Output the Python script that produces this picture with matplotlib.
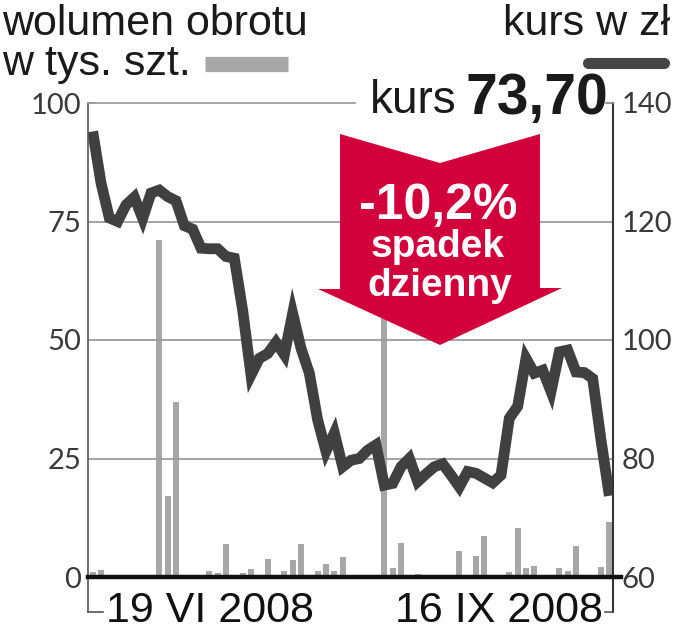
import matplotlib
matplotlib.use("Agg")
import matplotlib.pyplot as plt
from matplotlib.patches import Polygon
from matplotlib.lines import Line2D
import matplotlib.font_manager as fm
import numpy as np

# ---- data ----
volume = [1.0, 1.5, 0.5, 0.3, 0.5, 0.0, 0.5, 0.0, 71.0, 17.0,
          37.0, 0.2, 0.0, 0.0, 1.2, 0.9, 7.0, 0.0, 0.8, 1.6,
          0.0, 3.8, 0.0, 1.2, 3.6, 7.0, 0.0, 1.3, 2.8, 1.2,
          4.3, 0.0, 0.0, 0.0, 0.0, 65.0, 1.9, 7.2, 0.0, 0.6,
          0.0, 0.0, 0.4, 0.0, 5.5, 0.3, 4.4, 8.7, 0.0, 0.0,
          1.0, 10.3, 1.8, 2.3, 0.5, 0.5, 2.0, 1.3, 6.5, 0.0,
          0.0, 2.2, 11.7]
price = [135.2, 126.5, 120.6, 120.0, 122.8, 124.1, 120.5, 124.8, 125.3, 124.2,
         123.5, 119.3, 118.7, 115.5, 115.4, 115.4, 114.1, 113.8, 105.0, 94.1,
         96.9, 97.7, 99.6, 97.5, 104.5, 98.6, 94.4, 86.5, 81.2, 84.3,
         78.6, 79.7, 80.0, 81.4, 82.3, 75.5, 75.8, 78.6, 80.0, 76.1,
         77.4, 78.6, 79.1, 77.2, 75.2, 77.8, 77.5, 76.7, 75.9, 77.2,
         86.8, 88.8, 96.9, 94.4, 94.9, 91.3, 98.0, 98.3, 94.6, 94.5,
         93.5, 83.1, 73.7]
vol_ticks = [0, 25, 50, 75, 100]
price_ticks = [60, 80, 100, 120, 140]
date_labels = ["19 VI 2008", "16 IX 2008"]
title_left = ["wolumen obrotu", "w tys. szt."]
title_right = "kurs w zł"
last_price = "73,70"
change_text = ["-10,2%", "spadek", "dzienny"]

# ---- fonts ----
names = {f.name for f in fm.fontManager.ttflist}
narrow = "Liberation Sans Narrow" if "Liberation Sans Narrow" in names else "Liberation Sans"
COND = [narrow, "DejaVu Sans"]
LIGHT = ["Lato", "DejaVu Sans"]

W, H = 678, 640
fig = plt.figure(figsize=(W / 100, H / 100), dpi=100)

def fx(x):
    return x / W

def fy(y):
    return 1 - y / H

L, R, T, B = 88, 613, 103, 577
ax = fig.add_axes([fx(L), fy(B), (R - L) / W, (B - T) / H])
ax2 = ax.twinx()

x = np.arange(len(volume))
ax.bar(x, volume, width=0.72, color="#a7a7a7", zorder=1)
ax.set_xlim(-0.56, len(volume) - 1 + 0.44)
ax.set_ylim(0, 100)
for v in vol_ticks[1:-1]:
    ax.axhline(v, color="#9c9c9c", lw=1.3, zorder=2)

ax2.plot(x, price, color="#404040", lw=7.8, solid_joinstyle="miter",
         solid_capstyle="butt", zorder=5)
ax2.set_ylim(60, 140)

for a in (ax, ax2):
    a.set_xticks([])
    for s in a.spines.values():
        s.set_visible(False)

ax.set_yticks(vol_ticks)
ax.set_yticklabels([str(v) for v in vol_ticks], family=LIGHT, fontweight="normal",
                   fontsize=21, color="#3a3a3a")
ax.tick_params(axis="y", length=0, pad=5)
ax2.set_yticks(price_ticks)
ax2.set_yticklabels([str(v) for v in price_ticks], family=LIGHT, fontweight="normal",
                    fontsize=21, color="#3a3a3a")
ax2.tick_params(axis="y", length=0, pad=6)

# frame lines (pixel coordinates of the figure)
def fline(xs, ys, **kw):
    fig.add_artist(Line2D([fx(v) for v in xs], [fy(v) for v in ys], **kw))

fline([L, L], [T, 612], color="#555555", lw=1.2)
fline([L, 103], [612, 612], color="#555555", lw=1.2)
fline([L, 94], [T, T], color="#555555", lw=1.2)
fline([L, 355], [T, T], color="#a0a0a0", lw=1.3)
fline([R, R], [T, 612], color="#333333", lw=1.5)
fline([R, 605], [612, 612], color="#555555", lw=1.2)
fline([606, R], [T, T], color="#888888", lw=1.2)
fline([L, 621], [B, B], color="#111111", lw=3.2)

# titles
fig.text(fx(2), fy(24), title_left[0], family=COND, fontsize=31, color="#1a1a1a",
         va="center", ha="left")
fig.text(fx(2), fy(64), title_left[1], family=COND, fontsize=31, color="#1a1a1a",
         va="center", ha="left")
fig.text(fx(670), fy(24), title_right, family=COND, fontsize=31, color="#1a1a1a",
         va="center", ha="right")
fig.add_artist(Line2D([fx(205), fx(288)], [fy(64), fy(64)], color="#a7a7a7", lw=11,
                      solid_capstyle="butt"))
fig.add_artist(Line2D([fx(588), fx(664)], [fy(63), fy(63)], color="#454545", lw=8,
                      solid_capstyle="round"))

# current price
fig.text(fx(456), fy(101), "kurs", family=COND, fontsize=33, color="#1a1a1a",
         va="center", ha="right")
fig.text(fx(608), fy(99), last_price, family=COND, fontsize=41, fontweight="bold",
         color="#1a1a1a", va="center", ha="right")

# arrow
arrow_px = [(340, 134), (440, 163), (540, 134), (540, 288), (562, 288),
            (440, 345), (318, 289), (340, 289)]
fig.add_artist(Polygon([(fx(a), fy(b)) for a, b in arrow_px], closed=True,
                       facecolor="#d2003b", edgecolor="none", zorder=10))
fig.text(fx(438), fy(206), change_text[0], family=COND, fontsize=36, fontweight="bold",
         color="white", ha="center", va="center", zorder=11)
fig.text(fx(438), fy(247), change_text[1], family=COND, fontsize=28, fontweight="bold",
         color="white", ha="center", va="center", zorder=11)
fig.text(fx(440), fy(286), change_text[2], family=COND, fontsize=28, fontweight="bold",
         color="white", ha="center", va="center", zorder=11)

# dates
fig.text(fx(106), fy(611), date_labels[0], family=COND, fontsize=31, color="#111111",
         ha="left", va="center")
fig.text(fx(603), fy(611), date_labels[1], family=COND, fontsize=31, color="#111111",
         ha="right", va="center")

fig.savefig("out.png", dpi=100)
